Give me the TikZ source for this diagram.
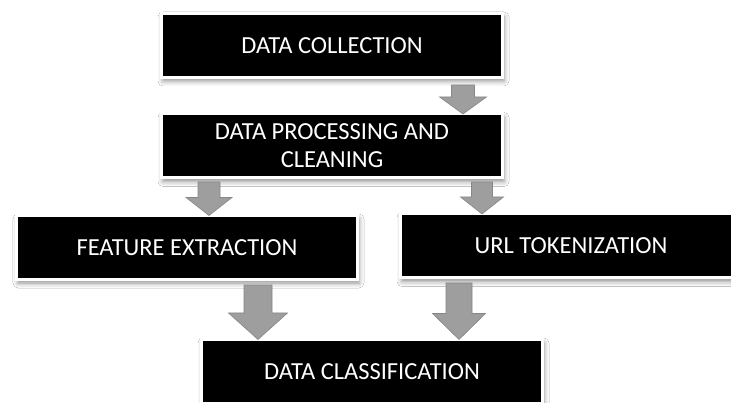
\documentclass[tikz,border=0pt]{standalone}
\usepackage{fontspec}
\setmainfont{Carlito}
\usetikzlibrary{calc,shadows.blur}
\definecolor{arrfill}{RGB}{158,158,158}
\definecolor{arrline}{RGB}{135,135,135}
\tikzset{
  box/.style={fill=black, draw=white, line width=3pt, minimum width=341pt,
    minimum height=64pt, inner sep=0pt, outer sep=0pt, text=white,
    font=\fontsize{24.5}{28}\selectfont, align=center,
    blur shadow={shadow xshift=1.5pt, shadow yshift=-3.5pt, shadow blur radius=5pt, shadow opacity=45}},
  barrow/.style={fill=arrfill, draw=arrline, line width=0.6pt, line join=miter}
}
\newcommand\blockarrow[5]{%
  \path[barrow] let \p1=(#1), \p2=(#2) in
   (\x1-#3pt,\y1) -- (\x1+#3pt,\y1) -- (\x1+#3pt,\y2+#5pt) -- (\x1+#4pt,\y2+#5pt)
   -- (\x1,\y2) -- (\x1-#4pt,\y2+#5pt) -- (\x1-#3pt,\y2+#5pt) -- cycle;}
\begin{document}
\begin{tikzpicture}[x=1pt,y=-1pt]
\useasboundingbox (0,0) rectangle (731,403);
\fill[white] (0,0) rectangle (731,403);
\clip (0,0) rectangle (731,403);
\node[box] (B1) at (332,45.5) {DATA COLLECTION};
\node[box] (B2) at (332,146) {DATA PROCESSING AND\\CLEANING};
\node[box] (FE) at (187,247.5) {FEATURE EXTRACTION};
\node[box] (URL) at (571,246) {URL TOKENIZATION};
\node[box] (DC) at (372,371.5) {DATA CLASSIFICATION};
\blockarrow{[xshift=131pt,yshift=-7.5pt]B1.south}{B2.north}{11.5}{23.5}{17}
\blockarrow{[xshift=-123pt,yshift=-4pt]B2.south}{FE.north}{11}{23}{18}
\blockarrow{[xshift=150pt,yshift=-4pt]B2.south}{URL.north}{10.5}{21.5}{17}
\blockarrow{[xshift=71pt,yshift=-5.5pt]FE.south}{DC.north}{14}{29.5}{26.5}
\blockarrow{[xshift=-112pt,yshift=-5pt]URL.south}{DC.north}{13}{26.5}{26}
\end{tikzpicture}
\end{document}
